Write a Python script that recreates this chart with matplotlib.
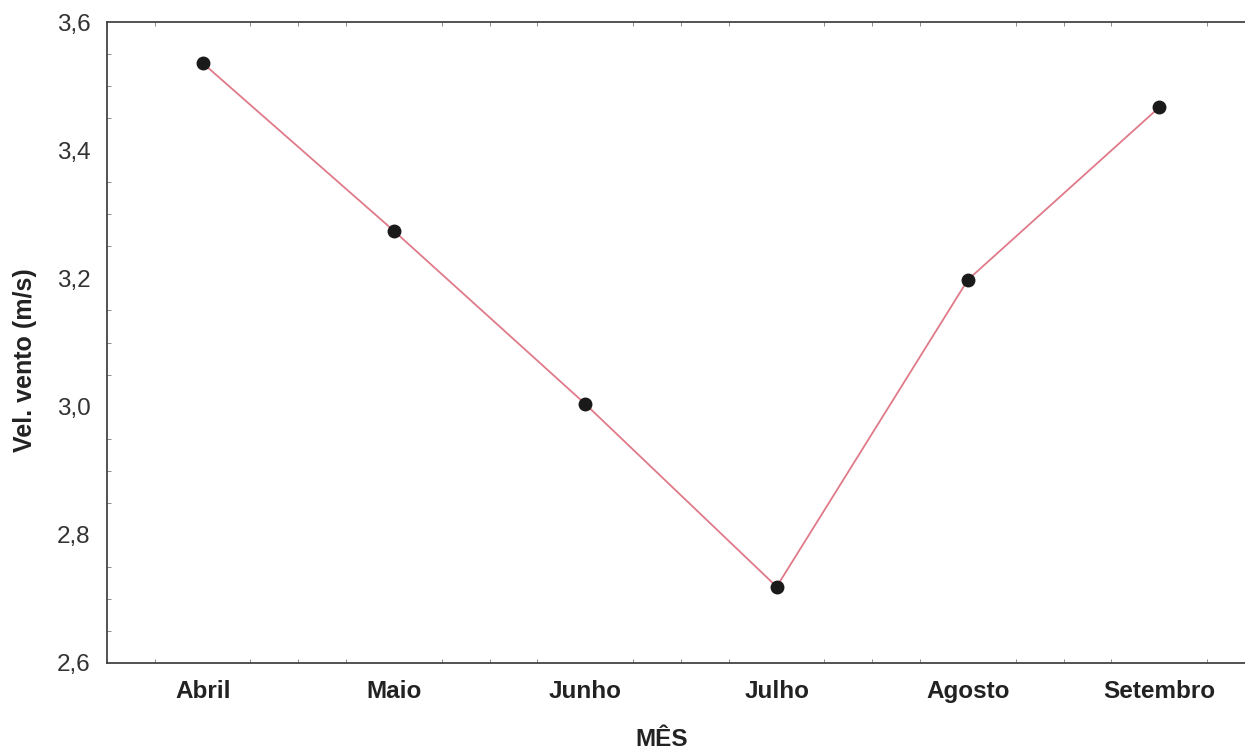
import matplotlib.pyplot as plt
from matplotlib.ticker import FuncFormatter, MultipleLocator, AutoMinorLocator

meses = ["Abril", "Maio", "Junho", "Julho", "Agosto", "Setembro"]
vel_vento = [3.536, 3.274, 3.004, 2.719, 3.198, 3.467]

plt.rcParams['font.family'] = ['Liberation Sans', 'DejaVu Sans']

fig = plt.figure(figsize=(12.45, 7.5), dpi=100)
# axes run a little past the right edge of the figure
ax = fig.add_axes([107 / 1245, 1 - 663 / 750, (1255 - 107) / 1245, (663 - 22) / 750])

x = range(len(meses))
ax.plot(x, vel_vento, color='#e07a88', linewidth=1.3, zorder=2)
ax.plot(x, vel_vento, 'o', color='#1a1a1a', markersize=9, zorder=3)

ax.set_xlim(-0.5, len(meses) - 0.5)
ax.set_ylim(2.6, 3.6)
ax.yaxis.set_major_locator(MultipleLocator(0.2))
ax.yaxis.set_major_formatter(FuncFormatter(lambda v, p: f"{v:.1f}".replace('.', ',')))
ax.yaxis.set_minor_locator(AutoMinorLocator(4))
ax.set_xticks(list(x))
ax.set_xticklabels(meses, fontweight='bold', fontsize=17.5, color='#222222')
ax.xaxis.set_minor_locator(MultipleLocator(0.25))

ax.tick_params(axis='y', labelsize=17.5, colors='#333333', length=0, pad=12)
ax.tick_params(axis='x', length=0, pad=12)
ax.tick_params(which='minor', direction='in', length=3, width=0.6, color='#777777',
               top=True, right=False)

for s in ax.spines.values():
    s.set_color('#444444')
    s.set_linewidth(1.3)

ax.set_xlabel("MÊS", fontweight='bold', fontsize=17.5, color='#222222')
ax.xaxis.set_label_coords(0.483, -0.101)
ax.set_ylabel("Vel. vento (m/s)", fontweight='bold', fontsize=18, color='#222222')
ax.yaxis.set_label_coords(-0.061, 0.473)

fig.savefig("out.png", dpi=100)
